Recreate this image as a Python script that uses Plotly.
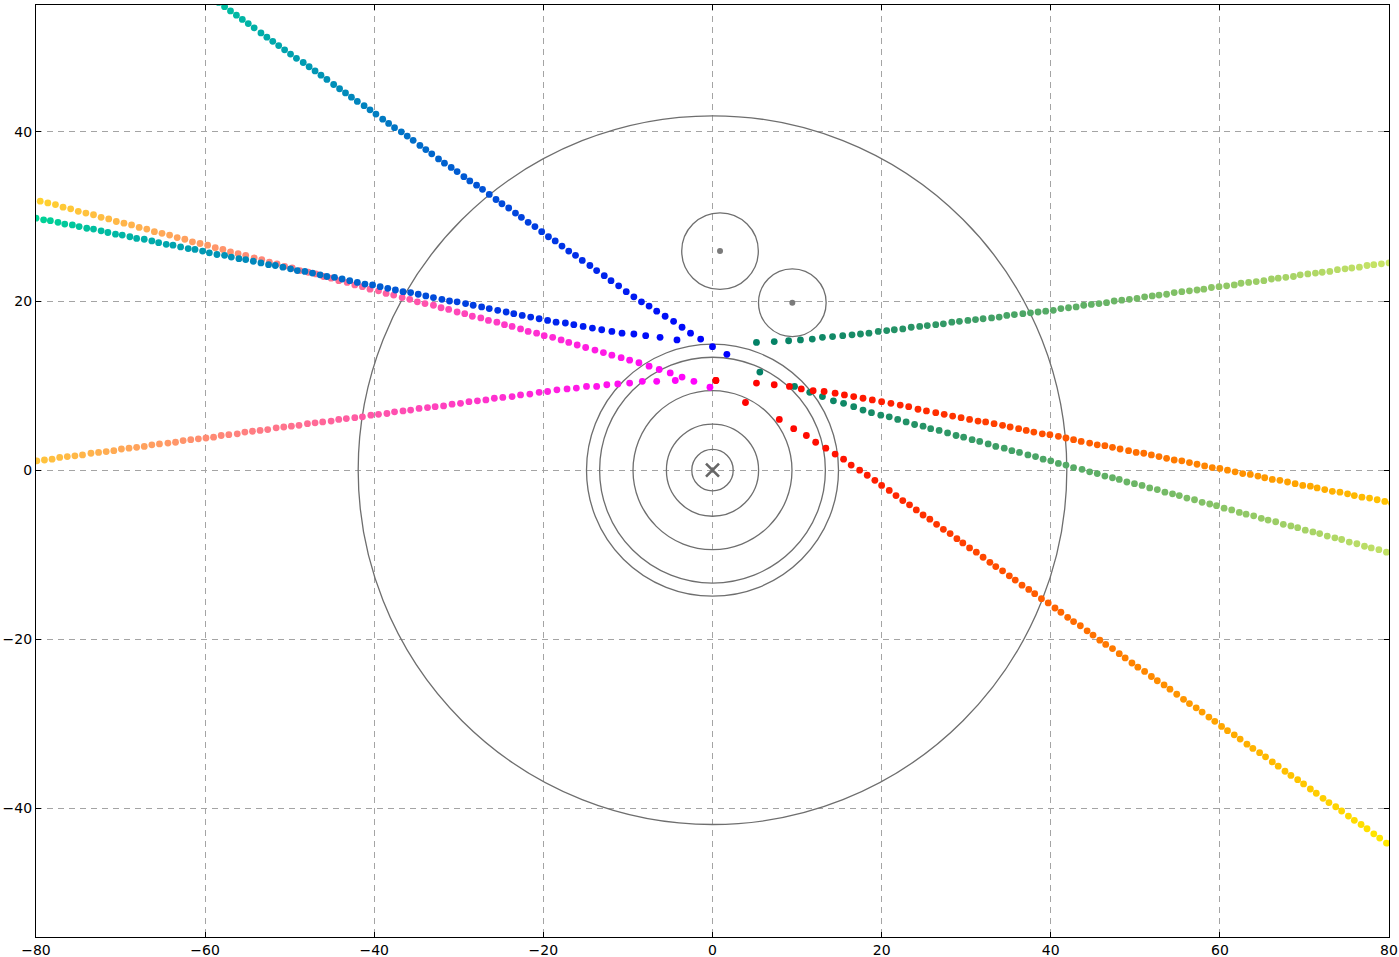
import plotly.graph_objects as go

# ---------------- data ----------------
ring_radii = [2.45, 5.45, 9.4, 13.35, 14.9, 41.9]
moon_x = [0.89, 9.44]
moon_y = [25.9, 19.8]
moon_r = [4.53, 4.0]
center_x = [0.0]
center_y = [0.0]

x_ticks = [-80, -60, -40, -20, 0, 20, 40, 60, 80]
y_ticks = [-40, -20, 0, 20, 40]

# winter tracks
w1_x = [1.7, 0.0, -1.4, -2.6, -3.6, -4.6, -5.6, -6.6, -7.5, -8.4, -9.3, -10.2, -11.1, -12.0, -12.8, -13.7, -14.5, -15.4, -16.2, -17.0,
        -17.8, -18.6, -19.4, -20.2, -21.0, -21.8, -22.6, -23.3, -24.1, -24.9, -25.6, -26.4, -27.2, -27.9, -28.7, -29.4, -30.2, -30.9,
        -31.7, -32.4, -33.2, -33.9, -34.6, -35.4, -36.1, -36.8, -37.6, -38.3, -39.0, -39.8, -40.5, -41.2, -42.0, -42.7, -43.4, -44.1,
        -44.8, -45.6, -46.3, -47.0, -47.7, -48.4, -49.2, -49.9, -50.6, -51.3, -52.0, -52.7, -53.4, -54.2, -54.9, -55.6, -56.3, -57.0,
        -57.7, -58.4]
w1_y = [13.7, 14.6, 15.5, 16.2, 16.9, 17.6, 18.2, 18.8, 19.4, 19.9, 20.5, 21.1, 21.8, 22.4, 23.0, 23.6, 24.2, 24.8, 25.4, 25.9,
        26.5, 27.1, 27.6, 28.2, 28.8, 29.3, 29.9, 30.4, 31.0, 31.5, 32.0, 32.6, 33.2, 33.7, 34.2, 34.7, 35.3, 35.8,
        36.3, 36.8, 37.4, 37.9, 38.4, 39.0, 39.5, 40.0, 40.5, 41.0, 41.5, 42.1, 42.6, 43.1, 43.6, 44.1, 44.6, 45.1,
        45.6, 46.2, 46.7, 47.2, 47.7, 48.2, 48.7, 49.2, 49.7, 50.2, 50.7, 51.2, 51.7, 52.3, 52.8, 53.3, 53.8, 54.3,
        54.8, 55.3]
w2_x = [-4.2, -6.2, -7.9, -9.3, -10.7, -11.9, -13.1, -14.2, -15.3, -16.4, -17.4, -18.5, -19.5, -20.5, -21.5, -22.5, -23.5, -24.4,
        -25.4, -26.4, -27.3, -28.3, -29.2, -30.2, -31.1, -32.0, -33.0, -33.9, -34.8, -35.7, -36.6, -37.5, -38.4, -39.3, -40.2,
        -41.1, -42.0, -42.9, -43.8, -44.7, -45.6, -46.4, -47.3, -48.2, -49.1, -49.9, -50.8, -51.7, -52.5, -53.4, -54.3, -55.2,
        -56.0, -56.9, -57.7, -58.6, -59.5, -60.3, -61.2, -62.0, -62.9, -63.8, -64.6, -65.5, -66.3, -67.2, -68.1, -68.9, -69.8,
        -70.6, -71.5, -72.3, -73.2, -74.0, -74.9, -75.7, -76.6, -77.4, -78.3, -79.1, -80.0, -80.8]
w2_y = [15.4, 15.7, 15.9, 16.1, 16.2, 16.4, 16.6, 16.8, 17.0, 17.2, 17.4, 17.5, 17.7, 17.9, 18.1, 18.3, 18.5, 18.7,
        18.9, 19.1, 19.3, 19.5, 19.7, 19.9, 20.0, 20.2, 20.4, 20.6, 20.8, 21.0, 21.1, 21.3, 21.5, 21.7, 21.9,
        22.0, 22.2, 22.4, 22.6, 22.8, 22.9, 23.1, 23.3, 23.5, 23.6, 23.8, 24.0, 24.2, 24.3, 24.5, 24.7, 24.9,
        25.0, 25.2, 25.4, 25.5, 25.7, 25.9, 26.1, 26.2, 26.4, 26.6, 26.7, 26.9, 27.1, 27.3, 27.4, 27.6, 27.8,
        27.9, 28.1, 28.3, 28.5, 28.6, 28.8, 29.0, 29.1, 29.3, 29.5, 29.6, 29.8, 30.0]

# spring tracks
s1_x = [-0.3, -2.2, -3.6, -5.0, -6.3, -7.5, -8.7, -9.8, -10.8, -11.9, -12.9, -13.9, -15.0, -16.0, -17.0, -17.9,
        -18.9, -19.9, -20.8, -21.8, -22.7, -23.7, -24.6, -25.5, -26.5, -27.4, -28.4, -29.3, -30.2, -31.2, -32.1, -33.0,
        -34.0, -34.9, -35.8, -36.7, -37.7, -38.6, -39.5, -40.5, -41.4, -42.3, -43.2, -44.2, -45.1, -46.0, -46.9, -47.8,
        -48.8, -49.7, -50.6, -51.5, -52.4, -53.3, -54.2, -55.2, -56.1, -57.0, -57.9, -58.8, -59.7, -60.6, -61.5, -62.4,
        -63.3, -64.2, -65.1, -66.0, -66.9, -67.8, -68.7, -69.6, -70.5, -71.4, -72.3, -73.2, -74.1, -75.0, -75.9, -76.8,
        -77.7, -78.6, -79.5, -80.4]
s1_y = [9.8, 10.5, 11.0, 11.5, 11.9, 12.3, 12.7, 13.0, 13.3, 13.6, 13.9, 14.2, 14.5, 14.8, 15.1, 15.4,
        15.7, 15.9, 16.2, 16.4, 16.7, 17.0, 17.2, 17.5, 17.7, 18.0, 18.2, 18.5, 18.7, 19.0, 19.2, 19.5,
        19.7, 19.9, 20.2, 20.4, 20.7, 20.9, 21.2, 21.4, 21.7, 21.9, 22.2, 22.4, 22.7, 22.9, 23.2, 23.4,
        23.6, 23.9, 24.1, 24.4, 24.6, 24.9, 25.1, 25.4, 25.6, 25.8, 26.1, 26.3, 26.6, 26.8, 27.0, 27.3,
        27.5, 27.8, 28.0, 28.2, 28.5, 28.7, 29.0, 29.2, 29.4, 29.7, 29.9, 30.2, 30.4, 30.6, 30.9, 31.1,
        31.4, 31.6, 31.8, 32.1]
s2_x = [-4.4, -6.6, -8.3, -9.8, -11.2, -12.5, -13.7, -14.9, -16.1, -17.2, -18.4, -19.5, -20.5, -21.6, -22.7, -23.7,
        -24.8, -25.8, -26.8, -27.8, -28.8, -29.8, -30.8, -31.8, -32.8, -33.7, -34.7, -35.7, -36.6, -37.6, -38.5, -39.5,
        -40.4, -41.4, -42.3, -43.3, -44.2, -45.1, -46.1, -47.0, -47.9, -48.9, -49.8, -50.7, -51.6, -52.6, -53.5, -54.4,
        -55.3, -56.2, -57.2, -58.1, -59.0, -59.9, -60.8, -61.7, -62.6, -63.5, -64.4, -65.4, -66.3, -67.2, -68.1, -69.0,
        -69.9, -70.8, -71.7, -72.6, -73.5, -74.5, -75.4, -76.3, -77.2, -78.1, -79.0, -79.9, -80.8]
s2_y = [10.6, 10.5, 10.5, 10.3, 10.2, 10.1, 9.9, 9.9, 9.7, 9.6, 9.5, 9.3, 9.2, 9.0, 8.9, 8.7,
        8.6, 8.5, 8.3, 8.2, 8.1, 7.9, 7.8, 7.6, 7.5, 7.4, 7.3, 7.1, 7.0, 6.9, 6.7, 6.6,
        6.5, 6.3, 6.2, 6.1, 6.0, 5.8, 5.7, 5.6, 5.5, 5.3, 5.2, 5.1, 5.0, 4.8, 4.7, 4.6,
        4.5, 4.3, 4.2, 4.1, 3.9, 3.8, 3.7, 3.6, 3.5, 3.3, 3.2, 3.1, 3.0, 2.8, 2.7, 2.6,
        2.5, 2.3, 2.2, 2.1, 2.0, 1.8, 1.7, 1.6, 1.5, 1.3, 1.2, 1.1, 1.0]

# autumn tracks
a1_x = [0.4, 5.2, 7.3, 9.1, 10.5, 11.9, 13.2, 14.5, 15.6, 16.7, 17.8, 18.9, 20.0, 21.1, 22.2, 23.2, 24.3, 25.3,
        26.4, 27.4, 28.4, 29.4, 30.4, 31.4, 32.3, 33.3, 34.3, 35.2, 36.2, 37.1, 38.0, 39.0, 39.9, 40.9, 41.8, 42.7,
        43.6, 44.6, 45.5, 46.4, 47.3, 48.2, 49.2, 50.1, 51.0, 51.9, 52.8, 53.7, 54.6, 55.5, 56.4, 57.3, 58.2, 59.1,
        60.0, 60.9, 61.8, 62.7, 63.6, 64.5, 65.3, 66.2, 67.1, 68.0, 68.9, 69.8, 70.7, 71.5, 72.4, 73.3, 74.2, 75.1,
        75.9, 76.8, 77.7, 78.6, 79.5, 80.3]
a1_y = [10.6, 10.3, 10.1, 9.9, 9.6, 9.4, 9.3, 9.1, 8.9, 8.7, 8.5, 8.3, 8.1, 7.9, 7.7, 7.5, 7.2, 7.0,
        6.8, 6.6, 6.4, 6.2, 6.0, 5.8, 5.7, 5.5, 5.3, 5.1, 4.9, 4.7, 4.5, 4.3, 4.2, 4.0, 3.8, 3.6,
        3.4, 3.2, 3.0, 2.9, 2.7, 2.5, 2.3, 2.1, 2.0, 1.8, 1.6, 1.4, 1.2, 1.1, 0.9, 0.7, 0.5, 0.3,
        0.2, 0.0, -0.2, -0.4, -0.5, -0.7, -0.9, -1.1, -1.2, -1.4, -1.6, -1.8, -1.9, -2.1, -2.3, -2.5, -2.6, -2.8,
        -3.0, -3.2, -3.3, -3.5, -3.7, -3.9]
a2_x = [0.4, 3.9, 7.9, 9.6, 11.1, 12.2, 13.4, 14.5, 15.5, 16.4, 17.4, 18.3, 19.2, 20.0, 20.9, 21.7, 22.5, 23.3,
        24.1, 24.9, 25.7, 26.5, 27.3, 28.1, 28.9, 29.6, 30.4, 31.2, 32.0, 32.8, 33.5, 34.3, 35.1, 35.8, 36.6, 37.4,
        38.1, 38.9, 39.7, 40.5, 41.2, 42.0, 42.7, 43.5, 44.3, 45.0, 45.8, 46.5, 47.3, 48.1, 48.8, 49.6, 50.3, 51.1,
        51.9, 52.6, 53.4, 54.1, 54.9, 55.7, 56.4, 57.2, 57.9, 58.7, 59.4, 60.2, 60.9, 61.7, 62.4, 63.2, 63.9, 64.7,
        65.4, 66.2, 66.9, 67.7, 68.4, 69.2, 69.9, 70.7, 71.4, 72.2, 72.9, 73.7, 74.4, 75.2, 75.9, 76.7, 77.4, 78.2,
        78.9, 79.7, 80.4]
a2_y = [10.6, 8.0, 6.0, 4.9, 4.1, 3.3, 2.6, 1.9, 1.3, 0.6, 0.0, -0.6, -1.2, -1.8, -2.4, -3.0, -3.6, -4.1,
        -4.7, -5.3, -5.8, -6.4, -7.0, -7.5, -8.1, -8.6, -9.2, -9.7, -10.3, -10.9, -11.4, -11.9, -12.5, -13.0, -13.6, -14.1,
        -14.6, -15.2, -15.7, -16.3, -16.8, -17.4, -17.9, -18.4, -19.0, -19.5, -20.1, -20.6, -21.1, -21.7, -22.2, -22.8, -23.3, -23.8,
        -24.4, -24.9, -25.4, -25.9, -26.5, -27.1, -27.6, -28.1, -28.6, -29.2, -29.7, -30.3, -30.8, -31.3, -31.8, -32.4, -32.9, -33.4,
        -33.9, -34.5, -35.0, -35.6, -36.1, -36.6, -37.1, -37.7, -38.2, -38.8, -39.3, -39.8, -40.3, -40.9, -41.4, -41.9, -42.4, -43.0,
        -43.5, -44.1, -44.6]

# summer tracks
u1_x = [5.2, 7.3, 9.0, 10.4, 11.8, 13.0, 14.2, 15.4, 16.5, 17.5, 18.5, 19.6, 20.6, 21.5, 22.5, 23.5, 24.5, 25.4,
        26.4, 27.3, 28.3, 29.2, 30.2, 31.1, 32.0, 33.0, 33.9, 34.8, 35.7, 36.7, 37.6, 38.5, 39.4, 40.3, 41.2, 42.1,
        43.0, 43.9, 44.8, 45.7, 46.6, 47.5, 48.4, 49.3, 50.2, 51.1, 52.0, 52.8, 53.7, 54.6, 55.5, 56.4, 57.3, 58.1,
        59.0, 59.9, 60.8, 61.7, 62.5, 63.4, 64.3, 65.2, 66.1, 66.9, 67.8, 68.7, 69.5, 70.4, 71.3, 72.1, 73.0, 73.9,
        74.8, 75.6, 76.5, 77.4, 78.2, 79.1, 80.0, 80.8]
u1_y = [15.1, 15.2, 15.3, 15.4, 15.5, 15.7, 15.8, 15.9, 16.0, 16.1, 16.2, 16.4, 16.5, 16.6, 16.7, 16.9, 17.0, 17.1,
        17.2, 17.3, 17.5, 17.6, 17.7, 17.8, 17.9, 18.0, 18.1, 18.3, 18.4, 18.5, 18.6, 18.7, 18.8, 18.9, 19.1, 19.2,
        19.3, 19.5, 19.6, 19.7, 19.8, 20.0, 20.1, 20.2, 20.3, 20.5, 20.6, 20.7, 20.8, 21.0, 21.1, 21.2, 21.3, 21.4,
        21.6, 21.7, 21.8, 21.9, 22.1, 22.2, 22.3, 22.4, 22.6, 22.7, 22.8, 22.9, 23.1, 23.2, 23.3, 23.4, 23.5, 23.7,
        23.8, 23.9, 24.0, 24.2, 24.3, 24.4, 24.5, 24.6]
u2_x = [5.6, 9.7, 11.5, 13.0, 14.3, 15.5, 16.7, 17.8, 18.8, 19.9, 20.9, 21.9, 22.9, 23.9, 24.9, 25.8, 26.8, 27.8,
        28.8, 29.7, 30.7, 31.6, 32.6, 33.5, 34.5, 35.4, 36.3, 37.3, 38.2, 39.1, 40.0, 40.9, 41.8, 42.7, 43.7, 44.6,
        45.5, 46.4, 47.3, 48.1, 49.0, 49.9, 50.8, 51.7, 52.6, 53.5, 54.4, 55.2, 56.1, 57.0, 57.9, 58.8, 59.6, 60.5,
        61.4, 62.3, 63.1, 64.0, 64.9, 65.7, 66.6, 67.5, 68.4, 69.2, 70.1, 71.0, 71.8, 72.7, 73.6, 74.4, 75.3, 76.2,
        77.1, 77.9, 78.8, 79.7, 80.5]
u2_y = [11.6, 9.9, 9.2, 8.7, 8.2, 7.9, 7.5, 7.1, 6.8, 6.5, 6.3, 6.0, 5.7, 5.4, 5.2, 4.9, 4.7, 4.4,
        4.1, 3.9, 3.6, 3.4, 3.1, 2.8, 2.6, 2.3, 2.1, 1.8, 1.6, 1.3, 1.1, 0.8, 0.6, 0.3, 0.1, -0.2,
        -0.4, -0.7, -0.9, -1.1, -1.4, -1.6, -1.8, -2.1, -2.3, -2.6, -2.8, -3.0, -3.3, -3.5, -3.8, -4.0, -4.2, -4.5,
        -4.7, -5.0, -5.2, -5.4, -5.7, -5.9, -6.1, -6.4, -6.6, -6.8, -7.1, -7.3, -7.5, -7.8, -8.0, -8.2, -8.5, -8.7,
        -9.0, -9.2, -9.4, -9.7, -9.9]

# first time-step index of each track, and total steps used for the colour scale
w1_start, w2_start = 0, 3
s1_start, s2_start = 0, 2
a1_start, a2_start = 0, 0
u1_start, u2_start = 1, 1
n_steps = 100

# ---------------- styling ----------------
winter = [[0, "rgb(0,0,255)"], [1, "rgb(0,255,128)"]]
spring = [[0, "rgb(255,0,255)"], [1, "rgb(255,255,0)"]]
autumn = [[0, "rgb(255,0,0)"], [1, "rgb(255,255,0)"]]
summer = [[0, "rgb(0,128,102)"], [1, "rgb(255,255,102)"]]

tracks = [
    (u1_x, u1_y, u1_start, summer),
    (u2_x, u2_y, u2_start, summer),
    (a1_x, a1_y, a1_start, autumn),
    (a2_x, a2_y, a2_start, autumn),
    (s1_x, s1_y, s1_start, spring),
    (s2_x, s2_y, s2_start, spring),
    (w2_x, w2_y, w2_start, winter),
    (w1_x, w1_y, w1_start, winter),
]

fig = go.Figure()
for tx, ty, start, cs in tracks:
    n = min(len(tx), len(ty))
    fig.add_trace(go.Scatter(
        x=tx[:n], y=ty[:n], mode="markers",
        marker=dict(size=6.8, color=[start + i for i in range(n)], colorscale=cs,
                    cmin=0, cmax=n_steps, line=dict(width=0)),
        showlegend=False, hoverinfo="skip"))

# moon centres
fig.add_trace(go.Scatter(x=moon_x, y=moon_y, mode="markers",
                         marker=dict(size=6, color="#7a7a7a"), showlegend=False, hoverinfo="skip"))
# planet centre
fig.add_trace(go.Scatter(x=center_x, y=center_y, mode="markers",
                         marker=dict(symbol="x-thin", size=13, line=dict(width=2.6, color="#666666")),
                         showlegend=False, hoverinfo="skip"))

shapes = []
for r in ring_radii:
    shapes.append(dict(type="circle", xref="x", yref="y", x0=-r, x1=r, y0=-r, y1=r,
                       line=dict(color="#6e6e6e", width=1.3), layer="between"))
for cx, cy, r in zip(moon_x, moon_y, moon_r):
    shapes.append(dict(type="circle", xref="x", yref="y", x0=cx - r, x1=cx + r, y0=cy - r, y1=cy + r,
                       line=dict(color="#6e6e6e", width=1.3), layer="between"))

axis_common = dict(
    automargin=False,
    showgrid=True, gridcolor="#a4a4a4", gridwidth=1, griddash="6px,5px",
    zeroline=False, showline=True, linecolor="black", linewidth=1.2, mirror="ticks",
    ticks="inside", ticklen=5, tickwidth=1, tickcolor="black",
    tickfont=dict(family="DejaVu Sans", size=14, color="black"),
)

fig.update_layout(
    width=1399, height=957,
    margin=dict(l=36, r=10, t=5, b=20, pad=0, autoexpand=False),
    paper_bgcolor="white", plot_bgcolor="white",
    shapes=shapes,
    xaxis=dict(range=[-80, 80], tickvals=x_ticks, ticklabelstandoff=0, **axis_common),
    yaxis=dict(range=[-55.2, 55.0], tickvals=y_ticks, ticklabelstandoff=0, **axis_common),
)

fig.write_html("out.html",
               config={"displayModeBar": False},
               post_script="document.body.style.margin='0';document.body.style.overflow='hidden';")
